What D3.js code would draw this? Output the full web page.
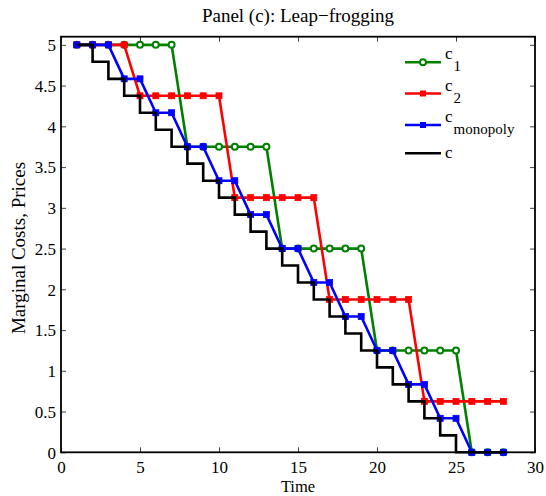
<!DOCTYPE html>
<html>
<head>
<meta charset="utf-8">
<script src="https://cdn.jsdelivr.net/npm/d3@7"></script>
<style>
  html, body { margin: 0; padding: 0; background: #fff; }
  svg text { font-family: "Liberation Serif", "Times New Roman", serif; fill: #000; }
</style>
</head>
<body>
<svg id="chart" width="546" height="496"></svg>
<script>
// Time periods 1..28
const time = [1,2,3,4,5,6,7,8,9,10,11,12,13,14,15,16,17,18,19,20,21,22,23,24,25,26,27,28];

// Marginal cost of firm 1 (leap-frogging investments)
const c1 = [5,5,5,5,5,5,5,
            3.75,3.75,3.75,3.75,3.75,3.75,
            2.5,2.5,2.5,2.5,2.5,2.5,
            1.25,1.25,1.25,1.25,1.25,1.25,
            0,0,0];

// Marginal cost of firm 2
const c2 = [5,5,5,5,
            4.375,4.375,4.375,4.375,4.375,4.375,
            3.125,3.125,3.125,3.125,3.125,3.125,
            1.875,1.875,1.875,1.875,1.875,1.875,
            0.625,0.625,0.625,0.625,0.625,0.625];

// Monopoly cost path
const cMonopoly = [5,5,5,
            4.583,4.583,4.167,4.167,3.75,3.75,3.333,3.333,2.917,2.917,
            2.5,2.5,2.083,2.083,1.667,1.667,1.25,1.25,0.833,0.833,
            0.417,0.417,0,0,0];

// State-of-the-art cost c (drawn as stairs)
const cState = [5,4.792,4.583,4.375,4.167,3.958,3.75,3.542,3.333,3.125,
            2.917,2.708,2.5,2.292,2.083,1.875,1.667,1.458,1.25,1.042,
            0.833,0.625,0.417,0.208,0,0,0,0];

const xTicks = [0,5,10,15,20,25,30];
const yTicks = [0,0.5,1,1.5,2,2.5,3,3.5,4,4.5,5];
const yTickLabels = ["0","0.5","1","1.5","2","2.5","3","3.5","4","4.5","5"];

const svg = d3.select("#chart");
const plotLeft = 61, plotRight = 535, plotTop = 36.7, plotBottom = 452.3;

const x = d3.scaleLinear().domain([0, 30]).range([plotLeft, plotRight]);
const y = d3.scaleLinear().domain([0, 5.1]).range([plotBottom, plotTop]);

const GREEN = "#008000", RED = "#ff0000", BLUE = "#0000ff";
const SERIF = "Liberation Serif, Times New Roman, serif";

// Axes box with inward ticks on all four sides
const gx = svg.append("g").attr("transform", `translate(0,${plotBottom})`)
  .call(d3.axisBottom(x).tickValues(xTicks).tickSizeInner(-5).tickSizeOuter(0).tickPadding(9));
const gxTop = svg.append("g").attr("transform", `translate(0,${plotTop})`)
  .call(d3.axisTop(x).tickValues(xTicks).tickSizeInner(-5).tickSizeOuter(0).tickFormat(""));
const gy = svg.append("g").attr("transform", `translate(${plotLeft},0)`)
  .call(d3.axisLeft(y).tickValues(yTicks).tickSizeInner(-5).tickSizeOuter(0).tickPadding(5)
        .tickFormat((d, i) => yTickLabels[i]));
const gyRight = svg.append("g").attr("transform", `translate(${plotRight},0)`)
  .call(d3.axisRight(y).tickValues(yTicks).tickSizeInner(-5).tickSizeOuter(0).tickFormat(""));

[gx, gxTop, gy, gyRight].forEach(g => {
  g.attr("font-family", SERIF);
  g.select(".domain").remove();
  g.selectAll(".tick line").attr("stroke", "#444").attr("stroke-width", 1);
  g.selectAll("text").attr("font-size", 17).attr("font-family", SERIF);
});
gx.selectAll("text").attr("dy", "0.71em");
gy.selectAll("text").attr("dy", "0.34em");

// Data lines
const lineGen = d3.line().x((d, i) => x(time[i])).y(d => y(d));
const stairGen = d3.line().x((d, i) => x(time[i])).y(d => y(d)).curve(d3.curveStepAfter);

const plot = svg.append("g");

function series(values, color, marker) {
  plot.append("path").datum(values)
    .attr("d", lineGen).attr("fill", "none")
    .attr("stroke", color).attr("stroke-width", 2.6).attr("stroke-linejoin", "round");
  const g = plot.append("g");
  if (marker === "circle") {
    g.selectAll("circle").data(values).join("circle")
      .attr("cx", (d, i) => x(time[i])).attr("cy", d => y(d)).attr("r", 3)
      .attr("fill", "#fff").attr("stroke", color).attr("stroke-width", 2);
  } else {
    g.selectAll("rect").data(values).join("rect")
      .attr("x", (d, i) => x(time[i]) - 3).attr("y", d => y(d) - 3)
      .attr("width", 6).attr("height", 6)
      .attr("fill", color).attr("stroke", color).attr("stroke-width", 0.8);
  }
}

series(c1, GREEN, "circle");
series(c2, RED, "square");
series(cMonopoly, BLUE, "square");

plot.append("path").datum(cState)
  .attr("d", stairGen).attr("fill", "none")
  .attr("stroke", "#000").attr("stroke-width", 2.6);

// Box outline
svg.append("rect")
  .attr("x", plotLeft).attr("y", plotTop)
  .attr("width", plotRight - plotLeft).attr("height", plotBottom - plotTop)
  .attr("fill", "none").attr("stroke", "#000").attr("stroke-width", 1.8);

// Title and axis labels
svg.append("text").attr("x", 298).attr("y", 21.5)
  .attr("text-anchor", "middle").attr("font-size", 19)
  .text("Panel (c): Leap\u2212frogging");

svg.append("text").attr("x", 298).attr("y", 492.2)
  .attr("text-anchor", "middle").attr("font-size", 16.5)
  .text("Time");

svg.append("text")
  .attr("transform", "translate(25,248) rotate(-90)")
  .attr("text-anchor", "middle").attr("font-size", 19)
  .text("Marginal Costs, Prices");

// Legend
const legendItems = [
  { name: "c", sub: "1", color: GREEN, marker: "circle", yLine: 62.3 },
  { name: "c", sub: "2", color: RED, marker: "square", yLine: 93.5 },
  { name: "c", sub: "monopoly", color: BLUE, marker: "square", yLine: 125 },
  { name: "c", sub: null, color: "#000", marker: null, yLine: 153.3 }
];
const lg = svg.append("g");
const lx0 = 405, lx1 = 441, lmx = 423;
legendItems.forEach(item => {
  lg.append("line").attr("x1", lx0).attr("x2", lx1)
    .attr("y1", item.yLine).attr("y2", item.yLine)
    .attr("stroke", item.color).attr("stroke-width", 2.6);
  if (item.marker === "circle") {
    lg.append("circle").attr("cx", lmx).attr("cy", item.yLine).attr("r", 3)
      .attr("fill", "#fff").attr("stroke", item.color).attr("stroke-width", 2);
  } else if (item.marker === "square") {
    lg.append("rect").attr("x", lmx - 3).attr("y", item.yLine - 3)
      .attr("width", 6).attr("height", 6).attr("fill", item.color);
  }
  if (item.sub) {
    const t = lg.append("text").attr("x", 445).attr("y", item.yLine - 3).attr("font-size", 17);
    t.append("tspan").text(item.name);
    t.append("tspan").attr("dx", 1).attr("dy", 12).attr("font-size", 15).text(item.sub);
  } else {
    lg.append("text").attr("x", 445).attr("y", item.yLine + 5).attr("font-size", 17).text(item.name);
  }
});
</script>
</body>
</html>
